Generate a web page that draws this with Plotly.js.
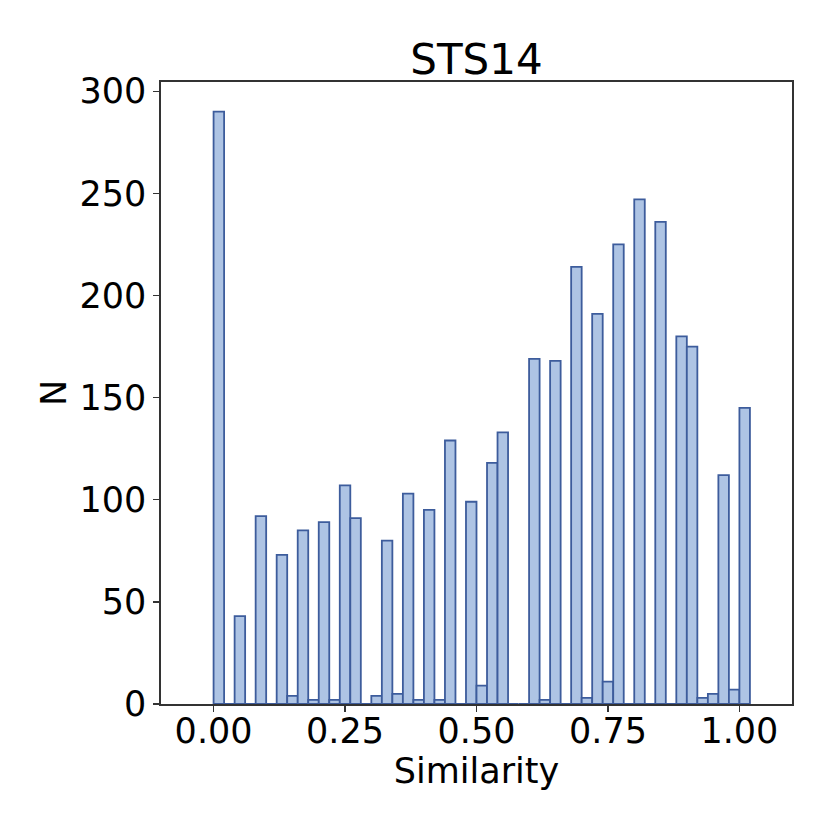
<!DOCTYPE html>
<html>
<head>
<meta charset="utf-8">
<script src="https://cdn.plot.ly/plotly-3.0.1.min.js"></script>
<style>html,body{margin:0;padding:0;background:#fff;}#chart{width:830px;height:830px;}</style>
</head>
<body>
<div id="chart"></div>
<script>
// Histogram bins (width 0.02) and counts
const binCenters = [0.01,0.03,0.05,0.07,0.09,0.11,0.13,0.15,0.17,0.19,0.21,0.23,0.25,0.27,0.29,0.31,0.33,0.35,0.37,0.39,0.41,0.43,0.45,0.47,0.49,0.51,0.53,0.55,0.57,0.59,0.61,0.63,0.65,0.67,0.69,0.71,0.73,0.75,0.77,0.79,0.81,0.83,0.85,0.87,0.89,0.91,0.93,0.95,0.97,0.99,1.01];
const counts = [290,0,43,0,92,0,73,4,85,2,89,2,107,91,0,4,80,5,103,2,95,2,129,0,99,9,118,133,0,0,169,2,168,0,214,3,191,11,225,0,247,0,236,0,180,175,3,5,112,7,145];
const binWidth = 0.02;
const xTickVals = [0, 0.25, 0.5, 0.75, 1.0];
const xTickText = ["0.00", "0.25", "0.50", "0.75", "1.00"];
const yTickVals = [0, 50, 100, 150, 200, 250, 300];

const FONT = "DejaVu Sans, sans-serif";
const trace = {
  type: "bar",
  x: binCenters,
  y: counts,
  width: binCenters.map(() => binWidth),
  marker: { color: "#aec4e4", line: { color: "#3d5c9c", width: 1.8 } },
  hoverinfo: "x+y"
};
const layout = {
  width: 830, height: 830,
  paper_bgcolor: "#ffffff", plot_bgcolor: "#ffffff",
  margin: { l: 161, r: 38, t: 82, b: 126 },
  showlegend: false,
  bargap: 0,
  font: { family: FONT, color: "#000" },
  title: { text: "STS14", font: { family: FONT, size: 42, color: "#000" },
           x: 0.5, xref: "paper", xanchor: "center", y: 1, yref: "paper", yanchor: "bottom", pad: { b: 8 } },
  xaxis: {
    range: [-0.1, 1.1], tickvals: xTickVals, ticktext: xTickText,
    ticks: "outside", ticklen: 6, tickwidth: 1.3, tickcolor: "#333",
    ticklabelstandoff: -11,
    showline: true, linecolor: "#333", linewidth: 1.6, mirror: true,
    showgrid: false, zeroline: false,
    tickfont: { family: FONT, size: 35, color: "#000" },
    title: { text: "Similarity", font: { family: FONT, size: 35, color: "#000" }, standoff: 0 }
  },
  yaxis: {
    range: [0, 304.5], tickvals: yTickVals,
    ticks: "outside", ticklen: 6, tickwidth: 1.3, tickcolor: "#333",
    showline: true, linecolor: "#333", linewidth: 1.6, mirror: true,
    showgrid: false, zeroline: false,
    tickfont: { family: FONT, size: 35, color: "#000" },
    title: { text: "N", font: { family: FONT, size: 35, color: "#000" }, standoff: 2 }
  }
};
Plotly.newPlot("chart", [trace], layout, { displayModeBar: false, staticPlot: true });
</script>
</body>
</html>
